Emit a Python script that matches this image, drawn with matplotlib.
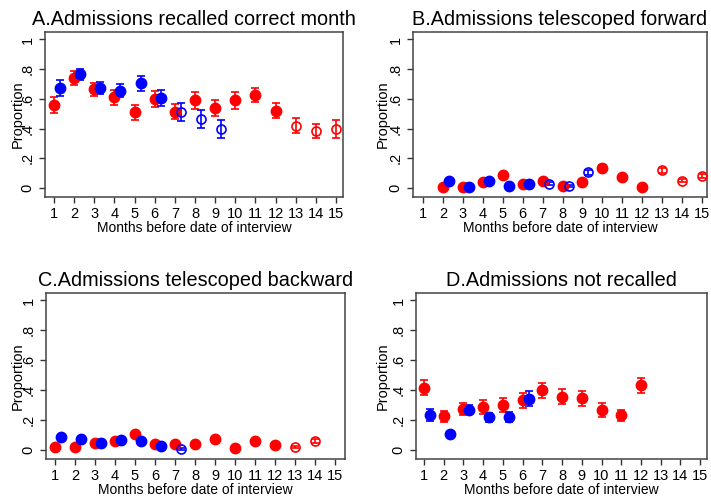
import numpy as np
import matplotlib.pyplot as plt

plt.rcParams['font.family'] = ['Liberation Sans', 'DejaVu Sans']

RED = '#ff0000'
BLUE = '#0000ff'

# Panel A: recalled correct month
a_red_x = [1, 2, 3, 4, 5, 6, 7, 8, 9, 10, 11, 12]
a_red_y = [0.56, 0.74, 0.665, 0.61, 0.51, 0.60, 0.515, 0.59, 0.54, 0.59, 0.625, 0.52]
a_red_e = [0.055, 0.045, 0.045, 0.05, 0.05, 0.055, 0.05, 0.055, 0.055, 0.055, 0.045, 0.05]
a_red_ox = [13, 14, 15]
a_red_oy = [0.42, 0.385, 0.40]
a_red_oe = [0.05, 0.045, 0.06]
a_blue_x = [1.3, 2.3, 3.3, 4.3, 5.3, 6.3]
a_blue_y = [0.675, 0.765, 0.675, 0.655, 0.705, 0.605]
a_blue_e = [0.055, 0.035, 0.04, 0.045, 0.05, 0.055]
a_blue_ox = [7.3, 8.3, 9.3]
a_blue_oy = [0.51, 0.465, 0.40]
a_blue_oe = [0.06, 0.06, 0.06]

# Panel B: telescoped forward
b_red_x = [2, 3, 4, 5, 6, 7, 8, 9, 10, 11, 12]
b_red_y = [0.01, 0.01, 0.038, 0.085, 0.03, 0.05, 0.015, 0.04, 0.135, 0.075, 0.01]
b_red_e = [0.005, 0.005, 0.01, 0.012, 0.008, 0.01, 0.006, 0.01, 0.02, 0.012, 0.005]
b_red_ox = [13, 14, 15]
b_red_oy = [0.12, 0.05, 0.08]
b_red_oe = [0.018, 0.012, 0.015]
b_blue_x = [2.3, 3.3, 4.3, 5.3, 6.3]
b_blue_y = [0.05, 0.007, 0.05, 0.015, 0.027]
b_blue_e = [0.01, 0.004, 0.01, 0.006, 0.008]
b_blue_ox = [7.3, 8.3, 9.3]
b_blue_oy = [0.03, 0.015, 0.105]
b_blue_oe = [0.01, 0.008, 0.02]

# Panel C: telescoped backward
c_red_x = [1, 2, 3, 4, 5, 6, 7, 8, 9, 10, 11, 12]
c_red_y = [0.022, 0.022, 0.045, 0.058, 0.108, 0.04, 0.038, 0.043, 0.076, 0.011, 0.063, 0.031]
c_red_e = [0.006, 0.006, 0.008, 0.01, 0.014, 0.008, 0.008, 0.008, 0.01, 0.005, 0.01, 0.007]
c_red_ox = [13, 14]
c_red_oy = [0.02, 0.06]
c_red_oe = [0.008, 0.012]
c_blue_x = [1.3, 2.3, 3.3, 4.3, 5.3, 6.3]
c_blue_y = [0.085, 0.074, 0.045, 0.067, 0.058, 0.027]
c_blue_e = [0.012, 0.01, 0.008, 0.01, 0.01, 0.008]
c_blue_ox = [7.3]
c_blue_oy = [0.009]
c_blue_oe = [0.006]

# Panel D: not recalled
d_red_x = [1, 2, 3, 4, 5, 6, 7, 8, 9, 10, 11, 12]
d_red_y = [0.416, 0.225, 0.274, 0.288, 0.30, 0.333, 0.398, 0.357, 0.346, 0.267, 0.231, 0.434]
d_red_e = [0.05, 0.035, 0.04, 0.045, 0.045, 0.05, 0.05, 0.05, 0.05, 0.045, 0.035, 0.05]
d_blue_x = [1.3, 2.3, 3.3, 4.3, 5.3, 6.3]
d_blue_y = [0.236, 0.106, 0.27, 0.22, 0.22, 0.344]
d_blue_e = [0.04, 0.01, 0.03, 0.03, 0.035, 0.05]

titles = ['A.Admissions recalled correct month', 'B.Admissions telescoped forward',
          'C.Admissions telescoped backward', 'D.Admissions not recalled']
yticks = [0, 0.2, 0.4, 0.6, 0.8, 1]
yticklabels = ['0', '.2', '.4', '.6', '.8', '1']
months = list(range(1, 16))

panels = [
    dict(pos=[0.0633, 0.6036, 0.4191, 0.332], xlim=(0.553, 15.35), lab=-0.067,
         series=[(a_red_x, a_red_y, a_red_e, RED, True), (a_red_ox, a_red_oy, a_red_oe, RED, False),
                 (a_blue_x, a_blue_y, a_blue_e, BLUE, True), (a_blue_ox, a_blue_oy, a_blue_oe, BLUE, False)]),
    dict(pos=[0.5809, 0.6036, 0.4135, 0.332], xlim=(0.498, 15.25), lab=-0.078,
         series=[(b_red_x, b_red_y, b_red_e, RED, True), (b_red_ox, b_red_oy, b_red_oe, RED, False),
                 (b_blue_x, b_blue_y, b_blue_e, BLUE, True), (b_blue_ox, b_blue_oy, b_blue_oe, BLUE, False)]),
    dict(pos=[0.0647, 0.0765, 0.4205, 0.334], xlim=(0.55, 15.5), lab=-0.07,
         series=[(c_red_x, c_red_y, c_red_e, RED, True), (c_red_ox, c_red_oy, c_red_oe, RED, False),
                 (c_blue_x, c_blue_y, c_blue_e, BLUE, True), (c_blue_ox, c_blue_oy, c_blue_oe, BLUE, False)]),
    dict(pos=[0.5851, 0.0765, 0.4093, 0.334], xlim=(0.594, 15.35), lab=-0.089,
         series=[(d_red_x, d_red_y, d_red_e, RED, True), (d_blue_x, d_blue_y, d_blue_e, BLUE, True)]),
]

fig = plt.figure(figsize=(7.11, 4.97), dpi=100)

for p, title in zip(panels, titles):
    ax = fig.add_axes(p['pos'])
    for x, y, e, col, filled in p['series']:
        if filled:
            ax.errorbar(x, y, yerr=e, fmt='o', color=col, ms=7.5, elinewidth=1.2,
                        capsize=3, capthick=1.2, zorder=3)
        else:
            ax.errorbar(x, y, yerr=e, fmt='o', color=col, mfc='none', mec=col, ms=6.5,
                        mew=1.2, elinewidth=1.2, capsize=3, capthick=1.2, zorder=3)
    ax.set_xlim(p['xlim'])
    ax.set_ylim(-0.06, 1.05)
    ax.set_xticks(months)
    ax.set_xticklabels([str(m) for m in months], fontsize=10.5)
    ax.set_yticks(yticks)
    ax.set_yticklabels(yticklabels, fontsize=10.5, rotation=90, va='center')
    ax.tick_params(length=4.5, width=1, color='#333333', pad=3)
    for s in ax.spines.values():
        s.set_color('#444444')
        s.set_linewidth(1.1)
    ax.set_xlabel('Months before date of interview', fontsize=10, labelpad=0)
    ax.set_ylabel('Proportion', fontsize=10.5)
    ax.yaxis.set_label_coords(p['lab'], 0.5)
    ax.set_title(title, fontsize=14.3, pad=5)

plt.savefig('out.png', dpi=100)
